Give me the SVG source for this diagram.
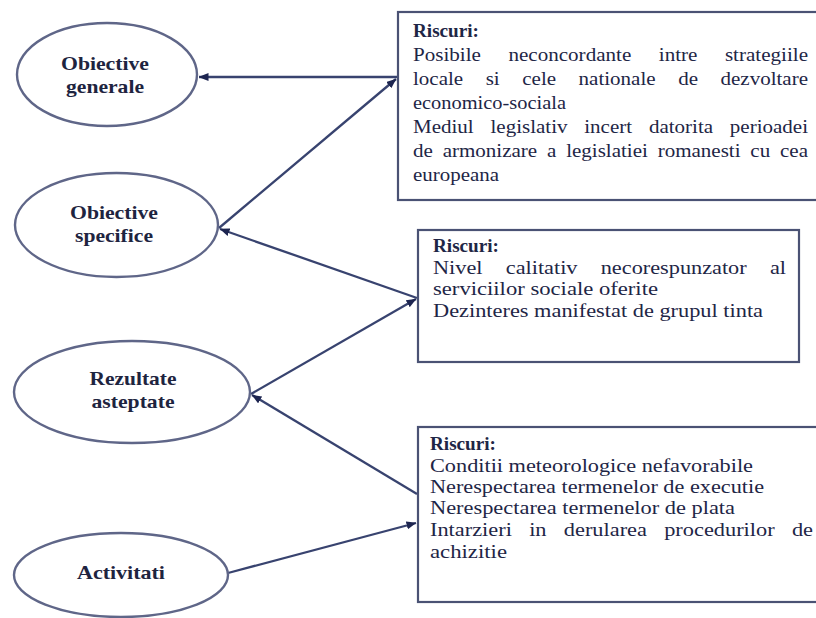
<svg xmlns="http://www.w3.org/2000/svg" width="816" height="618" viewBox="0 0 816 618">
<defs>
<style>
.ell{fill:#ffffff;stroke:#5f6688;stroke-width:2.4}
.box{fill:#ffffff;stroke:#4a5274;stroke-width:2.2}
.et{font-family:"Liberation Serif","Times New Roman",serif;font-weight:bold;font-size:19px;fill:#1e2440;text-anchor:middle}
.bt{font-family:"Liberation Serif","Times New Roman",serif;font-size:18px;fill:#1e2646}
.bh{font-weight:bold}
.con{fill:none;stroke:#38436f;stroke-width:2.3}
</style>
<marker id="ah" viewBox="0 0 10 8" refX="9.5" refY="4" markerWidth="10" markerHeight="8" markerUnits="userSpaceOnUse" orient="auto">
<path d="M0,0 L10,4 L0,8 z" fill="#1d2550"/>
</marker>
</defs>
<rect width="816" height="618" fill="#ffffff"/>

<g id="connectors">
<line class="con" x1="397" y1="77" x2="199" y2="77" marker-end="url(#ah)"/>
<line class="con" x1="219" y1="228" x2="396" y2="79" marker-end="url(#ah)"/>
<line class="con" x1="417" y1="298" x2="220" y2="229" marker-end="url(#ah)"/>
<line class="con" x1="251" y1="394" x2="416" y2="299" marker-end="url(#ah)"/>
<line class="con" x1="417" y1="494" x2="252" y2="395" marker-end="url(#ah)"/>
<line class="con" x1="228" y1="573" x2="416" y2="523" marker-end="url(#ah)"/>
</g>

<g id="obiective-generale">
<ellipse class="ell" cx="107" cy="74.5" rx="90" ry="51.5"/>
<text class="et" x="105" y="70" textLength="88" lengthAdjust="spacingAndGlyphs">Obiective</text>
<text class="et" x="105" y="93" textLength="78" lengthAdjust="spacingAndGlyphs">generale</text>
</g>

<g id="obiective-specifice">
<ellipse class="ell" cx="116.5" cy="225" rx="101.5" ry="52"/>
<text class="et" x="114" y="219" textLength="88" lengthAdjust="spacingAndGlyphs">Obiective</text>
<text class="et" x="114" y="242" textLength="78" lengthAdjust="spacingAndGlyphs">specifice</text>
</g>

<g id="rezultate-asteptate">
<ellipse class="ell" cx="132" cy="392" rx="118" ry="51"/>
<text class="et" x="133" y="385" textLength="87" lengthAdjust="spacingAndGlyphs">Rezultate</text>
<text class="et" x="133" y="408" textLength="83" lengthAdjust="spacingAndGlyphs">asteptate</text>
</g>

<g id="activitati">
<ellipse class="ell" cx="121" cy="575" rx="107" ry="42"/>
<text class="et" x="121" y="579" textLength="88" lengthAdjust="spacingAndGlyphs">Activitati</text>
</g>

<g id="riscuri-1">
<rect class="box" x="398" y="12" width="422" height="188"/>
<text class="bt bh" x="413" y="37" textLength="66" lengthAdjust="spacingAndGlyphs">Riscuri:</text>
<text class="bt" x="413" y="61" word-spacing="19" textLength="395" lengthAdjust="spacingAndGlyphs">Posibile neconcordante intre strategiile</text>
<text class="bt" x="413" y="85" word-spacing="14.8" textLength="395" lengthAdjust="spacingAndGlyphs">locale si cele nationale de dezvoltare</text>
<text class="bt" x="413" y="109" textLength="153" lengthAdjust="spacingAndGlyphs">economico-sociala</text>
<text class="bt" x="413" y="133" word-spacing="9.9" textLength="395" lengthAdjust="spacingAndGlyphs">Mediul legislativ incert datorita perioadei</text>
<text class="bt" x="413" y="157" word-spacing="3.9" textLength="395" lengthAdjust="spacingAndGlyphs">de armonizare a legislatiei romanesti cu cea</text>
<text class="bt" x="413" y="181" textLength="86" lengthAdjust="spacingAndGlyphs">europeana</text>
</g>

<g id="riscuri-2">
<rect class="box" x="418" y="230" width="381" height="132"/>
<text class="bt bh" x="433" y="252" textLength="66" lengthAdjust="spacingAndGlyphs">Riscuri:</text>
<text class="bt" x="433" y="274" word-spacing="14.3" textLength="353" lengthAdjust="spacingAndGlyphs">Nivel calitativ necorespunzator al</text>
<text class="bt" x="433" y="295" textLength="225" lengthAdjust="spacingAndGlyphs">serviciilor sociale oferite</text>
<text class="bt" x="433" y="317" textLength="330" lengthAdjust="spacingAndGlyphs">Dezinteres manifestat de grupul tinta</text>
</g>

<g id="riscuri-3">
<rect class="box" x="418" y="427" width="402" height="175"/>
<text class="bt bh" x="430" y="450" textLength="66" lengthAdjust="spacingAndGlyphs">Riscuri:</text>
<text class="bt" x="430" y="472" textLength="323" lengthAdjust="spacingAndGlyphs">Conditii meteorologice nefavorabile</text>
<text class="bt" x="430" y="493" textLength="334" lengthAdjust="spacingAndGlyphs">Nerespectarea termenelor de executie</text>
<text class="bt" x="430" y="514" textLength="305" lengthAdjust="spacingAndGlyphs">Nerespectarea termenelor de plata</text>
<text class="bt" x="430" y="536" word-spacing="9.4" textLength="383" lengthAdjust="spacingAndGlyphs">Intarzieri in derularea procedurilor de</text>
<text class="bt" x="430" y="558" textLength="77" lengthAdjust="spacingAndGlyphs">achizitie</text>
</g>
</svg>
